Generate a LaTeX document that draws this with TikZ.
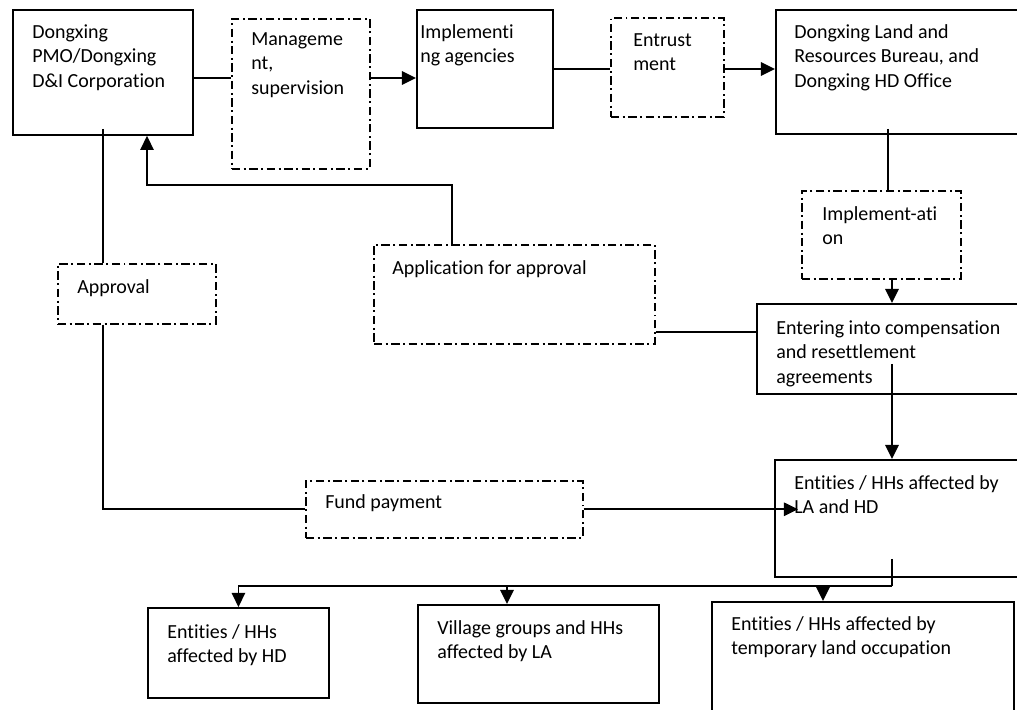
\documentclass[tikz,border=0pt]{standalone}
\usepackage{fontspec}
\setmainfont{Carlito}[RawFeature={-liga;-clig;-calt}]
\usetikzlibrary{arrows.meta}

\tikzset{
  frame/.style={draw, line width=1.3pt, inner sep=0pt, anchor=north west},
  dashframe/.style={frame, line width=1.1pt, dash pattern=on 6pt off 2.5pt on 1.4pt off 2.5pt},
  txt/.style={anchor=north west, inner sep=0pt, align=left, font=\fontsize{14.2}{17.5}\selectfont},
  link/.style={line width=1.3pt},
  arr/.style={link, -{Triangle[length=10pt,width=9.5pt]}}
}

\begin{document}
\begin{tikzpicture}[x=0.025cm, y=-0.025cm]
        \useasboundingbox (0,0) rectangle (1017,709);
        \clip (0,0) rectangle (1017,709);

        % top row
        \node[frame, minimum width=4.5cm, minimum height=3.125cm] (pmo) at (12,9) {};
        \node[dashframe, minimum width=3.45cm, minimum height=3.75cm] (mgmt) at (231,18) {};
        \node[frame, minimum width=3.4cm, minimum height=2.95cm] (impl) at (416,9) {};
        \node[dashframe, minimum width=2.825cm, minimum height=2.475cm] (entr) at (610,17) {};
        \node[frame, minimum width=6.375cm, minimum height=3.1cm] (land) at (775,9) {};

        % middle
        \node[dashframe, minimum width=3.975cm, minimum height=2.2cm] (implm) at (801,190) {};
        \node[dashframe, minimum width=3.95cm, minimum height=1.5cm] (appr) at (57,263) {};
        \node[dashframe, minimum width=7.025cm, minimum height=2.475cm] (appl) at (373,244) {};
        \node[frame, minimum width=6.85cm, minimum height=2.25cm] (enter) at (756,303) {};
        \node[dashframe, minimum width=6.925cm, minimum height=1.425cm] (fund) at (305,480) {};
        \node[frame, minimum width=6.4cm, minimum height=2.925cm] (lahd) at (774,459) {};

        % bottom row
        \node[frame, minimum width=4.525cm, minimum height=2.25cm] (hd) at (147,607) {};
        \node[frame, minimum width=6.025cm, minimum height=2.45cm] (vill) at (417,604) {};
        \node[frame, minimum width=7.55cm, minimum height=3.25cm] (temp) at (711,601) {};

        % texts
        \node[txt] (pmo-t) at ([shift={(20,15)}]pmo.north west) {Dongxing\\PMO/Dongxing\\D\&I Corporation};
        \node[txt] (mgmt-t) at ([shift={(20,14)}]mgmt.north west) {Manageme\\nt,\\supervision};
        \node[txt] (impl-t) at ([shift={(4,15)}]impl.north west) {Implementi\\ng agencies};
        \node[txt] (entr-t) at ([shift={(23,16)}]entr.north west) {Entrust\\ment};
        \node[txt] (land-t) at ([shift={(19,15)}]land.north west) {Dongxing Land and\\Resources Bureau, and\\Dongxing HD Office};
        \node[txt] (implm-t) at ([shift={(21,16)}]implm.north west) {Implement-ati\\on};
        \node[txt] (appr-t) at ([shift={(20,16)}]appr.north west) {Approval};
        \node[txt] (appl-t) at ([shift={(19,16)}]appl.north west) {Application for approval};
        \node[txt] (enter-t) at ([shift={(20,17)}]enter.north west) {Entering into compensation\\and resettlement\\agreements};
        \node[txt] (fund-t) at ([shift={(20,14)}]fund.north west) {Fund payment};
        \node[txt] (lahd-t) at ([shift={(20,16)}]lahd.north west) {Entities / HHs affected by\\LA and HD};
        \node[txt] (hd-t) at ([shift={(20,17)}]hd.north west) {Entities / HHs\\affected by HD};
        \node[txt] (vill-t) at ([shift={(20,16)}]vill.north west) {Village groups and HHs\\affected by LA};
        \node[txt] (temp-t) at ([shift={(20,15)}]temp.north west) {Entities / HHs affected by\\temporary land occupation};

        % connectors
        \draw[link] (pmo.east |- 0,78) -- (mgmt.west |- 0,78);
        \draw[arr] (mgmt.east |- 0,78) -- (impl.west |- 0,78);
        \draw[link] (impl.east |- 0,69) -- (entr.west |- 0,69);
        \draw[arr] (entr.east |- 0,69) -- (land.west |- 0,69);
        \draw[link] (land.south -| 888,0) ++(0,-6) -- (implm.north -| 888,0);
        \draw[arr] (implm.south -| 892,0) -- (enter.north -| 892,0);
        \draw[arr] (enter.south -| 892,0) ++(0,-31) -- (lahd.north -| 892,0);

        \coordinate (split) at (892,586);
        \draw[link] (lahd.south -| split) ++(0,-19) -- (split);
        \draw[arr] (split) -| (hd.north);
        \draw[arr] (split -| 507,0) -- (vill.north -| 507,0);
        \draw[arr] (split -| 823,0) -- (temp.north -| 823,0);

        \draw[link] (pmo.south) ++(0,-7) -- (appr.north -| pmo.south);
        \draw[link] (appr.south -| pmo.south) |- (fund.west);
        \draw[arr] (fund.east) -- (fund.east -| lahd.west) -- ++(24,0);
        \draw[arr] (appl.north -| 452,0) -- ++(0,-59) -| (pmo.south -| 147,0);
        \draw[link] (appl.east |- 0,332) -- (enter.west |- 0,332);
\end{tikzpicture}
\end{document}
